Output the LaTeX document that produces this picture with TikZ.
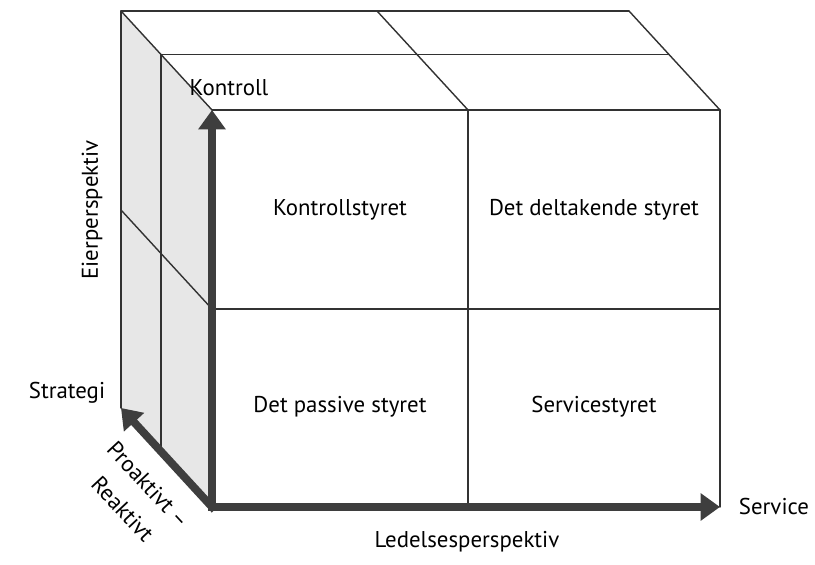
\documentclass[tikz,border=0pt]{standalone}
\usepackage{fontspec}
\setmainfont{PT Sans}
\usepackage{tkz-euclide}
\usetikzlibrary{arrows.meta,calc}

\definecolor{edgegray}{RGB}{50,50,50}
\definecolor{axisgray}{RGB}{62,62,62}
\definecolor{facegray}{RGB}{231,231,231}

\begin{document}
\begin{tikzpicture}[
  axisarrow/.style={line width=4.5pt,color=axisgray,line cap=rect,
    -{Triangle[length=11pt,width=15pt]}},
  lbl/.style={font=\fontsize{13}{15}\selectfont}]
\useasboundingbox (0,0) rectangle (16.3,11.3);
\tkzSetUpLine[line width=0.8pt,color=edgegray]

% front face
\tkzDefPoints{4.24/9.10/F1,9.36/9.10/F2,14.40/9.10/F3}
\tkzDefPoints{4.24/5.12/H1,14.40/5.12/H3}
\tkzDefPoints{4.24/1.16/G1,9.36/1.16/G2,14.40/1.16/G3}
% back edge
\tkzDefPoints{2.42/11.08/B1,7.54/11.08/B2,12.58/11.08/B3}
\tkzDefPoints{2.42/7.10/BM,2.42/3.14/BB}

\coordinate (M1) at ($(B1)!.44!(F1)$);
\coordinate (M3) at ($(B3)!.44!(F3)$);
\coordinate (MB) at ($(BB)!.44!(G1)$);

\tkzFillPolygon[color=facegray](B1,F1,G1,BB)

\tkzDrawSegments(B1,B3 B3,F3 F1,F3 B1,F1 M1,M3 B2,F2)
\tkzDrawSegments(F2,G2 H1,H3 F3,G3)
\tkzDrawSegments(B1,BB M1,MB BM,H1)

% the three axes
\draw[axisarrow] (G1) -- (F1);
\draw[axisarrow] (G1) -- (G3);
\draw[axisarrow] (G1) -- (BB);

\node[lbl] (kontroll) at (4.58,9.54) {Kontroll};
\node[lbl,rotate=90] (eier) at (1.84,7.10) {Eierperspektiv};
\node[lbl] (strategi) at (1.34,3.44) {Strategi};
\node[lbl,rotate=-47,align=center] (proaktivt) at (2.71,1.36)
  {Proaktivt –\\[5pt]Reaktivt};
\node[lbl] (service) at (15.48,1.16) {Service};
\node[lbl] (ledelse) at (9.34,0.46) {Ledelsesperspektiv};

\node[lbl] (kstyret) at (6.80,7.10) {Kontrollstyret};
\node[lbl] (dstyret) at (11.88,7.10) {Det deltakende styret};
\node[lbl] (pstyret) at (6.80,3.16) {Det passive styret};
\node[lbl] (sstyret) at (11.88,3.16) {Servicestyret};

\end{tikzpicture}
\end{document}
